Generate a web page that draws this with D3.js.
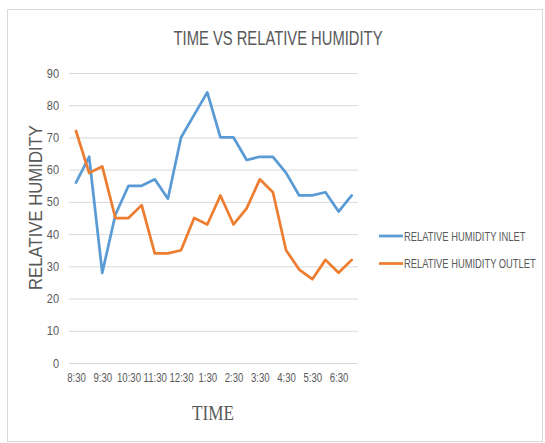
<!DOCTYPE html>
<html><head><meta charset="utf-8">
<script src="https://cdn.jsdelivr.net/npm/d3@7"></script>
<style>body{margin:0;background:#fff}</style>
</head><body>
<svg id="c" width="545" height="443"></svg>
<script>
const categories = ["8:30","9:00","9:30","10:00","10:30","11:00","11:30","12:00","12:30","1:00","1:30","2:00","2:30","3:00","3:30","4:00","4:30","5:00","5:30","6:00","6:30","7:00"];
const inlet  = [56,64,28,46,55,55,57,51,70,77,84,70,70,63,64,64,59,52,52,53,47,52];
const outlet = [72,59,61,45,45,49,34,34,35,45,43,52,43,48,57,53,35,29,26,32,28,32];
const yTicks = [0,10,20,30,40,50,60,70,80,90];
const seriesNames = ["RELATIVE HUMIDITY INLET","RELATIVE HUMIDITY OUTLET"];
const colors = ["#5B9BD5","#ED7D31"];

const SANS = "Liberation Sans, Arial, sans-serif";
// horizontally condense text around its anchor point (text placed at 0,0 inside)
function squeeze(sel, factor){
  sel.attr("transform", `scale(${factor},1)`);
}
function fitWidth(textSel, target){
  const w = textSel.node().getComputedTextLength();
  return target / w;
}

const svg = d3.select("#c");
svg.append("rect").attr("x",7.5).attr("y",9.5).attr("width",535).attr("height",432)
  .attr("fill","#fff").attr("stroke","#d9d9d9");

const x = d3.scalePoint().domain(categories).range([76,351.7]);
const y = d3.scaleLinear().domain([0,90]).range([363,73]);
const gx0 = 69, gx1 = 358;

// gridlines
svg.append("g").selectAll("line").data(yTicks).join("line")
  .attr("x1",gx0).attr("x2",gx1).attr("y1",d=>y(d)+0.5).attr("y2",d=>y(d)+0.5)
  .attr("stroke","#d9d9d9").attr("stroke-width",1);

// y axis labels
const yAxis = d3.axisLeft(y).tickValues(yTicks).tickSize(0).tickPadding(0);
const gy = svg.append("g").attr("transform","translate(59,0)").call(yAxis);
gy.select(".domain").remove();
gy.selectAll("text").attr("font-family",SANS).attr("font-size",12.5).attr("fill","#595959");
squeeze(gy.selectAll("text"),0.88);

// x axis labels
const xAxis = d3.axisBottom(x).tickValues(categories.filter((d,i)=>i%2===0)).tickSize(0).tickPadding(0);
const gxa = svg.append("g").attr("transform","translate(0,373)").call(xAxis);
gxa.select(".domain").remove();
gxa.selectAll("text").attr("font-family",SANS).attr("font-size",13).attr("fill","#595959");
squeeze(gxa.selectAll("text"),0.74);

// lines
const line = d3.line().x((d,i)=>x(categories[i])).y(d=>y(d));
[inlet,outlet].forEach((s,k)=>{
  svg.append("path").datum(s).attr("d",line).attr("fill","none")
    .attr("stroke",colors[k]).attr("stroke-width",2.75).attr("stroke-linejoin","round").attr("stroke-linecap","round");
});

// title
const tg = svg.append("g");
const title = tg.append("text").attr("x",0).attr("y",0).attr("text-anchor","middle")
  .attr("font-family",SANS).attr("font-size",20)
  .attr("fill","#595959").text("TIME VS RELATIVE HUMIDITY");
tg.attr("transform",`translate(278,45) scale(${fitWidth(title,209)},1)`);

// x axis title
const xg = svg.append("g");
const xt = xg.append("text").attr("text-anchor","middle")
  .attr("font-family","Liberation Serif, Times New Roman, serif").attr("font-size",20)
  .attr("fill","#595959").text("TIME");
xg.attr("transform",`translate(213,420) scale(${fitWidth(xt,42)},1)`);

// y axis title
const yg = svg.append("g");
const yt = yg.append("text").attr("text-anchor","middle")
  .attr("font-family",SANS).attr("font-size",18)
  .attr("fill","#595959").text("RELATIVE HUMIDITY");
yg.attr("transform",`translate(42,207.5) rotate(-90) scale(${fitWidth(yt,165)},1)`);

// legend
const lg = svg.append("g");
seriesNames.forEach((n,k)=>{
  const ly = 236 + k*27.5;
  lg.append("line").attr("x1",379).attr("x2",403).attr("y1",ly).attr("y2",ly)
    .attr("stroke",colors[k]).attr("stroke-width",2.75);
  const g = lg.append("g").attr("transform",`translate(404,${ly+4.5}) scale(0.75,1)`);
  g.append("text").attr("font-family",SANS)
    .attr("font-size",12.5).attr("fill","#595959").text(n);
});
</script>
</body></html>
